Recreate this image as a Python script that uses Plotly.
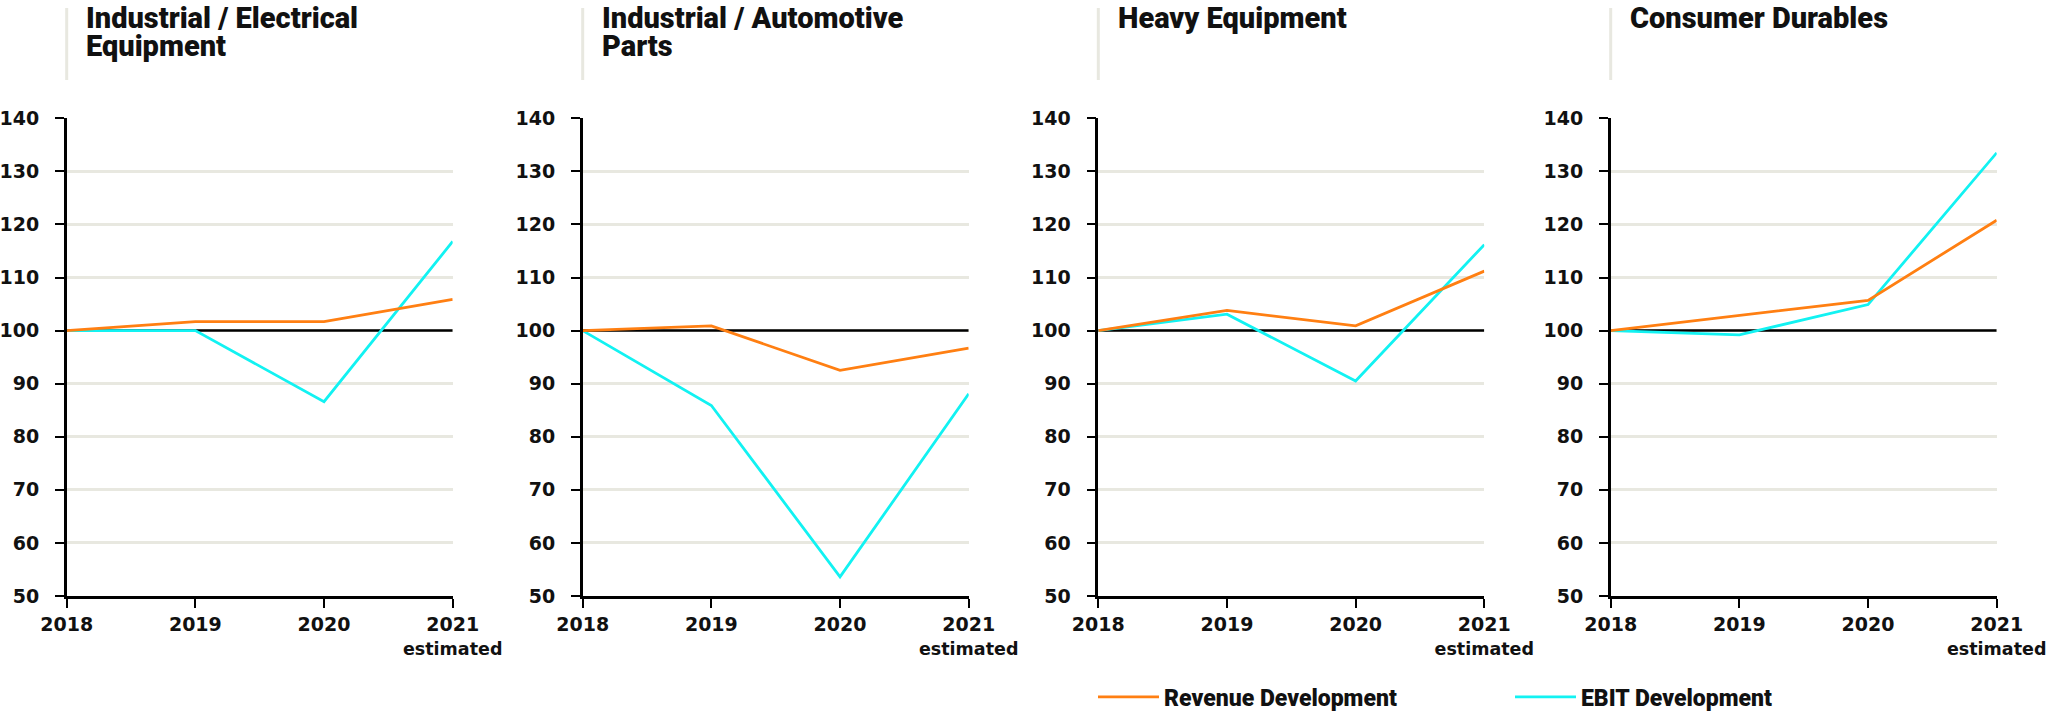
import plotly.graph_objects as go

# ---------------- data ----------------
YEARS = [2018, 2019, 2020, 2021]
X_LABELS = ["2018", "2019", "2020", "2021<br><span style='font-size:17.5px'>estimated</span>"]
Y_TICKS = [50, 60, 70, 80, 90, 100, 110, 120, 130, 140]
BASE_INDEX = 100

TITLES = [
    ["Industrial / Electrical", "Equipment"],
    ["Industrial / Automotive", "Parts"],
    ["Heavy Equipment"],
    ["Consumer Durables"],
]

REVENUE = [
    [100, 101.7, 101.7, 105.9],
    [100, 100.9, 92.5, 96.7],
    [100, 103.8, 100.9, 111.2],
    [100, 102.9, 105.7, 120.8],
]
EBIT = [
    [100, 100.0, 86.6, 116.8],
    [100, 85.9, 53.6, 88.1],
    [100, 103.1, 90.5, 116.2],
    [100, 99.2, 104.9, 133.5],
]
SERIES_NAMES = ["Revenue Development", "EBIT Development"]

# ---------------- style / layout ----------------
W, H = 2048, 713
ORANGE = "#ff7f12"
CYAN = "#12f2f2"
GRID = "#e8e8e0"
PANEL_LEFT = [66.7, 582.7, 1098.3, 1610.7]
PANEL_W = 386.0
Y_TOP_PX, Y_BOT_PX = 118.3, 596.0

TICK_FONT = dict(family="DejaVu Sans", size=19, color="#111111", weight="bold")
TITLE_FONT = dict(family="Roboto", size=29, color="#111111", weight=900)
LEGEND_FONT = dict(family="Roboto", size=23, color="#111111", weight=900)

fig = go.Figure()
layout = dict(
    width=W, height=H,
    margin=dict(l=0, r=0, t=0, b=0, autoexpand=False),
    paper_bgcolor="white", plot_bgcolor="white",
    showlegend=True,
)

ydom = [(H - Y_BOT_PX) / H, (H - Y_TOP_PX) / H]
annotations = []
shapes = []
for i in range(4):
    n = "" if i == 0 else str(i + 1)
    xa, ya = "x" + n, "y" + n
    x0 = PANEL_LEFT[i] / W
    x1 = (PANEL_LEFT[i] + PANEL_W) / W
    layout["xaxis" + n] = dict(
        domain=[x0, x1], anchor=ya, range=[2018, 2021],
        tickmode="array", tickvals=YEARS, ticktext=X_LABELS,
        ticks="outside", ticklen=9, tickwidth=2, tickcolor="black",
        showline=True, linecolor="black", linewidth=2.5,
        showgrid=False, zeroline=False, tickfont=TICK_FONT,
        ticklabeloverflow="allow", fixedrange=True,
    )
    layout["yaxis" + n] = dict(
        domain=ydom, anchor=xa, range=[50, 140],
        tickmode="array", tickvals=Y_TICKS,
        ticks="outside", ticklen=9, tickwidth=2, tickcolor="black",
        showline=True, linecolor="black", linewidth=2.5,
        showgrid=True, gridcolor=GRID, gridwidth=2.5,
        zeroline=False, tickfont=TICK_FONT, ticklabelstandoff=12,
        fixedrange=True,
    )
    # index baseline (=100)
    fig.add_trace(go.Scatter(
        x=[YEARS[0], YEARS[-1]], y=[BASE_INDEX, BASE_INDEX], mode="lines",
        line=dict(color="black", width=2.5), xaxis=xa, yaxis=ya,
        showlegend=False, hoverinfo="skip",
    ))
    fig.add_trace(go.Scatter(
        x=YEARS, y=EBIT[i], mode="lines", name=SERIES_NAMES[1],
        line=dict(color=CYAN, width=2.8), xaxis=xa, yaxis=ya,
        showlegend=(i == 0), legendrank=2,
    ))
    fig.add_trace(go.Scatter(
        x=YEARS, y=REVENUE[i], mode="lines", name=SERIES_NAMES[0],
        line=dict(color=ORANGE, width=2.8), xaxis=xa, yaxis=ya,
        showlegend=(i == 0), legendrank=1,
    ))
    # title divider
    shapes.append(dict(
        type="line", xref="paper", yref="paper",
        x0=x0, x1=x0, y0=1 - 8 / H, y1=1 - 80 / H,
        line=dict(color=GRID, width=3),
    ))
    for j, line in enumerate(TITLES[i]):
        annotations.append(dict(
            text=line, xref="paper", yref="paper",
            x=(PANEL_LEFT[i] + 17.5) / W, y=1 - (18.5 + 27 * j) / H,
            xanchor="left", yanchor="middle", showarrow=False,
            font=TITLE_FONT,
        ))

layout["annotations"] = annotations
layout["shapes"] = shapes
layout["legend"] = dict(
    orientation="h", x=1093 / W, y=(H - 697) / H, xanchor="left", yanchor="middle",
    xref="container", yref="container",
    font=LEGEND_FONT, bgcolor="rgba(0,0,0,0)", entrywidth=341, itemwidth=61,
    traceorder="normal",
)
fig.update_layout(**layout)
fig.write_html(
    "out.html",
    config={"displayModeBar": False},
    post_script="document.body.style.margin='0';document.body.style.overflow='hidden';",
)
